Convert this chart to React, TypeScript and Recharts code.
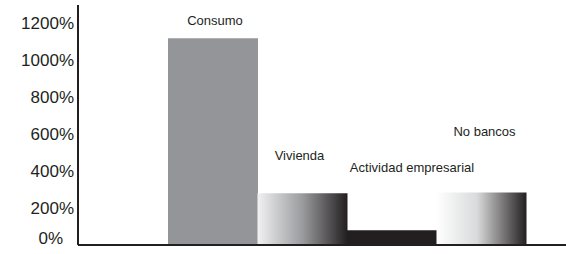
import { BarChart, Bar, XAxis, YAxis, Cell, LabelList } from "recharts";

const categories = ["Consumo", "Vivienda", "Actividad empresarial", "No bancos"];
const values = [1120, 280, 80, 285];
const yTicks = [0, 200, 400, 600, 800, 1000, 1200];

const fills = ["#939598", "url(#vivGrad)", "#231f20", "url(#noBancosGrad)"];
// label nudges (px): shift right, lift above bar top
const labelDx = [2, -3, 20, 3];
const labelLift = [18, 38, 63, 61];

const data = categories.map((name, i) => ({ name, value: values[i] }));

const font = "'Liberation Sans', Arial, sans-serif";

function YTick(props: any) {
  const { x, y, payload } = props;
  const isZero = payload.value === 0;
  return (
    <text
      x={isZero ? x - 11 : x}
      y={isZero ? y - 7 : y}
      dy="0.355em"
      textAnchor="end"
      fontSize={17}
      fontFamily={font}
      fill="#231f20"
    >
      {payload.value}%
    </text>
  );
}

function BarLabel(props: any) {
  const { x, y, width, index, value } = props;
  return (
    <text
      x={x + width / 2 + labelDx[index]}
      y={y - labelLift[index]}
      dominantBaseline="central"
      textAnchor="middle"
      fontSize={13}
      fontFamily={font}
      fill="#231f20"
    >
      {value}
    </text>
  );
}

export default function App() {
  return (
    <div style={{ position: "absolute", left: 0, top: 0, background: "#fff" }}>
      <BarChart
        width={566}
        height={254}
        data={data}
        margin={{ top: 5, right: 0, bottom: 0, left: 0 }}
        barCategoryGap={0}
      >
        <defs>
          <linearGradient id="vivGrad" x1="0" y1="0" x2="1" y2="0">
            <stop offset="0%" stopColor="#f1f1f2" />
            <stop offset="50%" stopColor="#9a9b9e" />
            <stop offset="100%" stopColor="#231f20" />
          </linearGradient>
          <linearGradient id="noBancosGrad" x1="0" y1="0" x2="1" y2="0">
            <stop offset="0%" stopColor="#ffffff" />
            <stop offset="45%" stopColor="#d9dadb" />
            <stop offset="100%" stopColor="#231f20" />
          </linearGradient>
        </defs>
        <XAxis
          dataKey="name"
          tick={false}
          tickLine={false}
          height={9}
          padding={{ left: 90, right: 40 }}
          axisLine={{ stroke: "#231f20", strokeWidth: 2 }}
        />
        <YAxis
          type="number"
          domain={[0, 1300]}
          ticks={yTicks}
          width={78}
          tickLine={false}
          tickSize={4}
          tickMargin={0}
          tick={<YTick />}
          axisLine={{ stroke: "#231f20", strokeWidth: 2 }}
        />
        <Bar dataKey="value" isAnimationActive={false}>
          {data.map((d, i) => (
            <Cell key={d.name} fill={fills[i]} />
          ))}
          <LabelList dataKey="name" content={<BarLabel />} />
        </Bar>
      </BarChart>
    </div>
  );
}
